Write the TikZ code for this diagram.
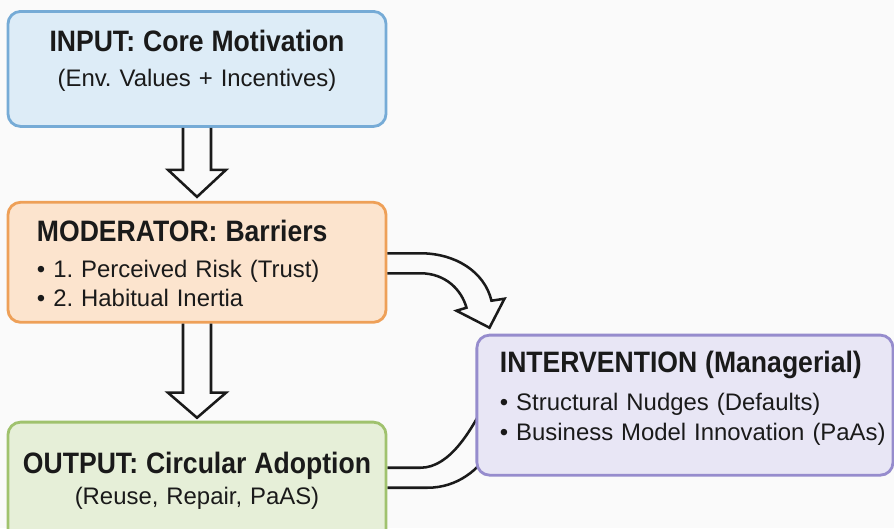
\documentclass[tikz,border=0pt]{standalone}
\usepackage{fontspec}
\setmainfont{Liberation Sans}
\newfontfamily\headfont{Liberation Sans}[FakeStretch=0.9]
\usetikzlibrary{positioning,calc,backgrounds}
\frenchspacing
\definecolor{inkdark}{HTML}{1A1A1A}
\definecolor{paper}{HTML}{FAFAFA}
\definecolor{skyfill}{HTML}{DDECF7}
\definecolor{skyline}{HTML}{76ABD6}
\definecolor{peachfill}{HTML}{FCE4CE}
\definecolor{peachline}{HTML}{EEA058}
\definecolor{sagefill}{HTML}{E6EFD8}
\definecolor{sageline}{HTML}{A0C26E}
\definecolor{lilacfill}{HTML}{E8E6F5}
\definecolor{lilacline}{HTML}{968CCD}
\newcommand{\stagehead}[1]{{\headfont\bfseries\fontsize{21}{21}\selectfont #1}}
\tikzset{
  stage/.style={rounded corners=9pt,line width=2pt,inner ysep=0pt,
    font=\fontsize{17}{21}\selectfont,text=inkdark},
  inputbox/.style={stage,fill=skyfill,draw=skyline,align=center,
    text width=8cm,inner xsep=0.725cm,text height=1cm,text depth=1.875cm},
  barrierbox/.style={stage,fill=peachfill,draw=peachline,align=left,
    text width=8cm,inner xsep=0.725cm,text height=0.975cm,text depth=2.025cm},
  outputbox/.style={stage,fill=sagefill,draw=sageline,align=center,
    text width=9.25cm,inner xsep=0.1cm,text height=1.275cm,text depth=1.85cm},
  leverbox/.style={stage,fill=lilacfill,draw=lilacline,align=left,
    text width=9.25cm,inner xsep=0.575cm,text height=0.925cm,text depth=2.575cm},
  hollowflow/.style={draw=inkdark,line width=1.8pt,line join=miter}
}
\begin{document}
\begin{tikzpicture}[x=0.025cm,y=0.025cm]
  \useasboundingbox (0,0) rectangle (894,-528);

  \node[inputbox,anchor=north] (input) at (197,-10)
    {\stagehead{INPUT: Core Motivation}\\[4pt](Env. Values + Incentives)};
  \node[barrierbox,below=1.825cm of input] (moderator)
    {\stagehead{MODERATOR: Barriers}\\[4.5pt]\textbullet\ 1. Perceived Risk (Trust)\\\textbullet\ 2. Habitual Inertia};
  \node[outputbox,below=2.425cm of moderator] (output)
    {\stagehead{OUTPUT: Circular Adoption}\\[1pt](Reuse, Repair, PaAS)};
  \node[leverbox,below right=0.25cm and 2.2cm of moderator.south east] (intervention)
    {\stagehead{INTERVENTION (Managerial)}\\[6.5pt]\textbullet\ Structural Nudges (Defaults)\\\mbox{\textbullet\ Business Model Innovation (PaAs)}};

  % hollow block arrows down the main column
  \draw[hollowflow] ($(input.south)+(-14,0)$) -- ++(0,-42) -- ++(-15,0)
    -- ($(moderator.north)+(0,4)$)
    -- ($(input.south)+(29,-42)$) -- ++(-15,0) -- ++(0,42);
  \draw[hollowflow] ($(moderator.south)+(-14,0)$) -- ++(0,-69) -- ++(-15,0)
    -- ($(output.north)+(0,3)$)
    -- ($(moderator.south)+(29,-69)$) -- ++(-15,0) -- ++(0,69);

  % bent arrow from the barriers into the intervention
  \draw[hollowflow] ($(moderator.east)+(0,9)$) -- ++(33,0)
    .. controls +(35,0) and +(-7,29) .. ($(intervention.north west)+(16,33)$)
    -- ++(13,2) -- ($(intervention.north west)+(14,6)$)
    -- ($(intervention.north west)+(-19,23)$) -- ++(10,3)
    .. controls +(-5,18) and +(25,0) .. ($(moderator.east)+(33,-11)$) -- ++(-33,0);

  \begin{scope}[on background layer]
    \fill[paper] (0,0) rectangle (894,-528);
    % loop back from the outcome, running under the intervention box
    \draw[hollowflow] ($(output.north east)+(0,-47)$) -- ++(33,0)
      .. controls +(30,0) and +(-12,-22) .. ($(intervention.south west)+(8,70)$);
    \draw[hollowflow] ($(output.north east)+(0,-67)$) -- ++(40,0)
      .. controls +(30,0) and +(-12,-21) .. ($(intervention.south west)+(16,28)$);
  \end{scope}
\end{tikzpicture}
\end{document}
